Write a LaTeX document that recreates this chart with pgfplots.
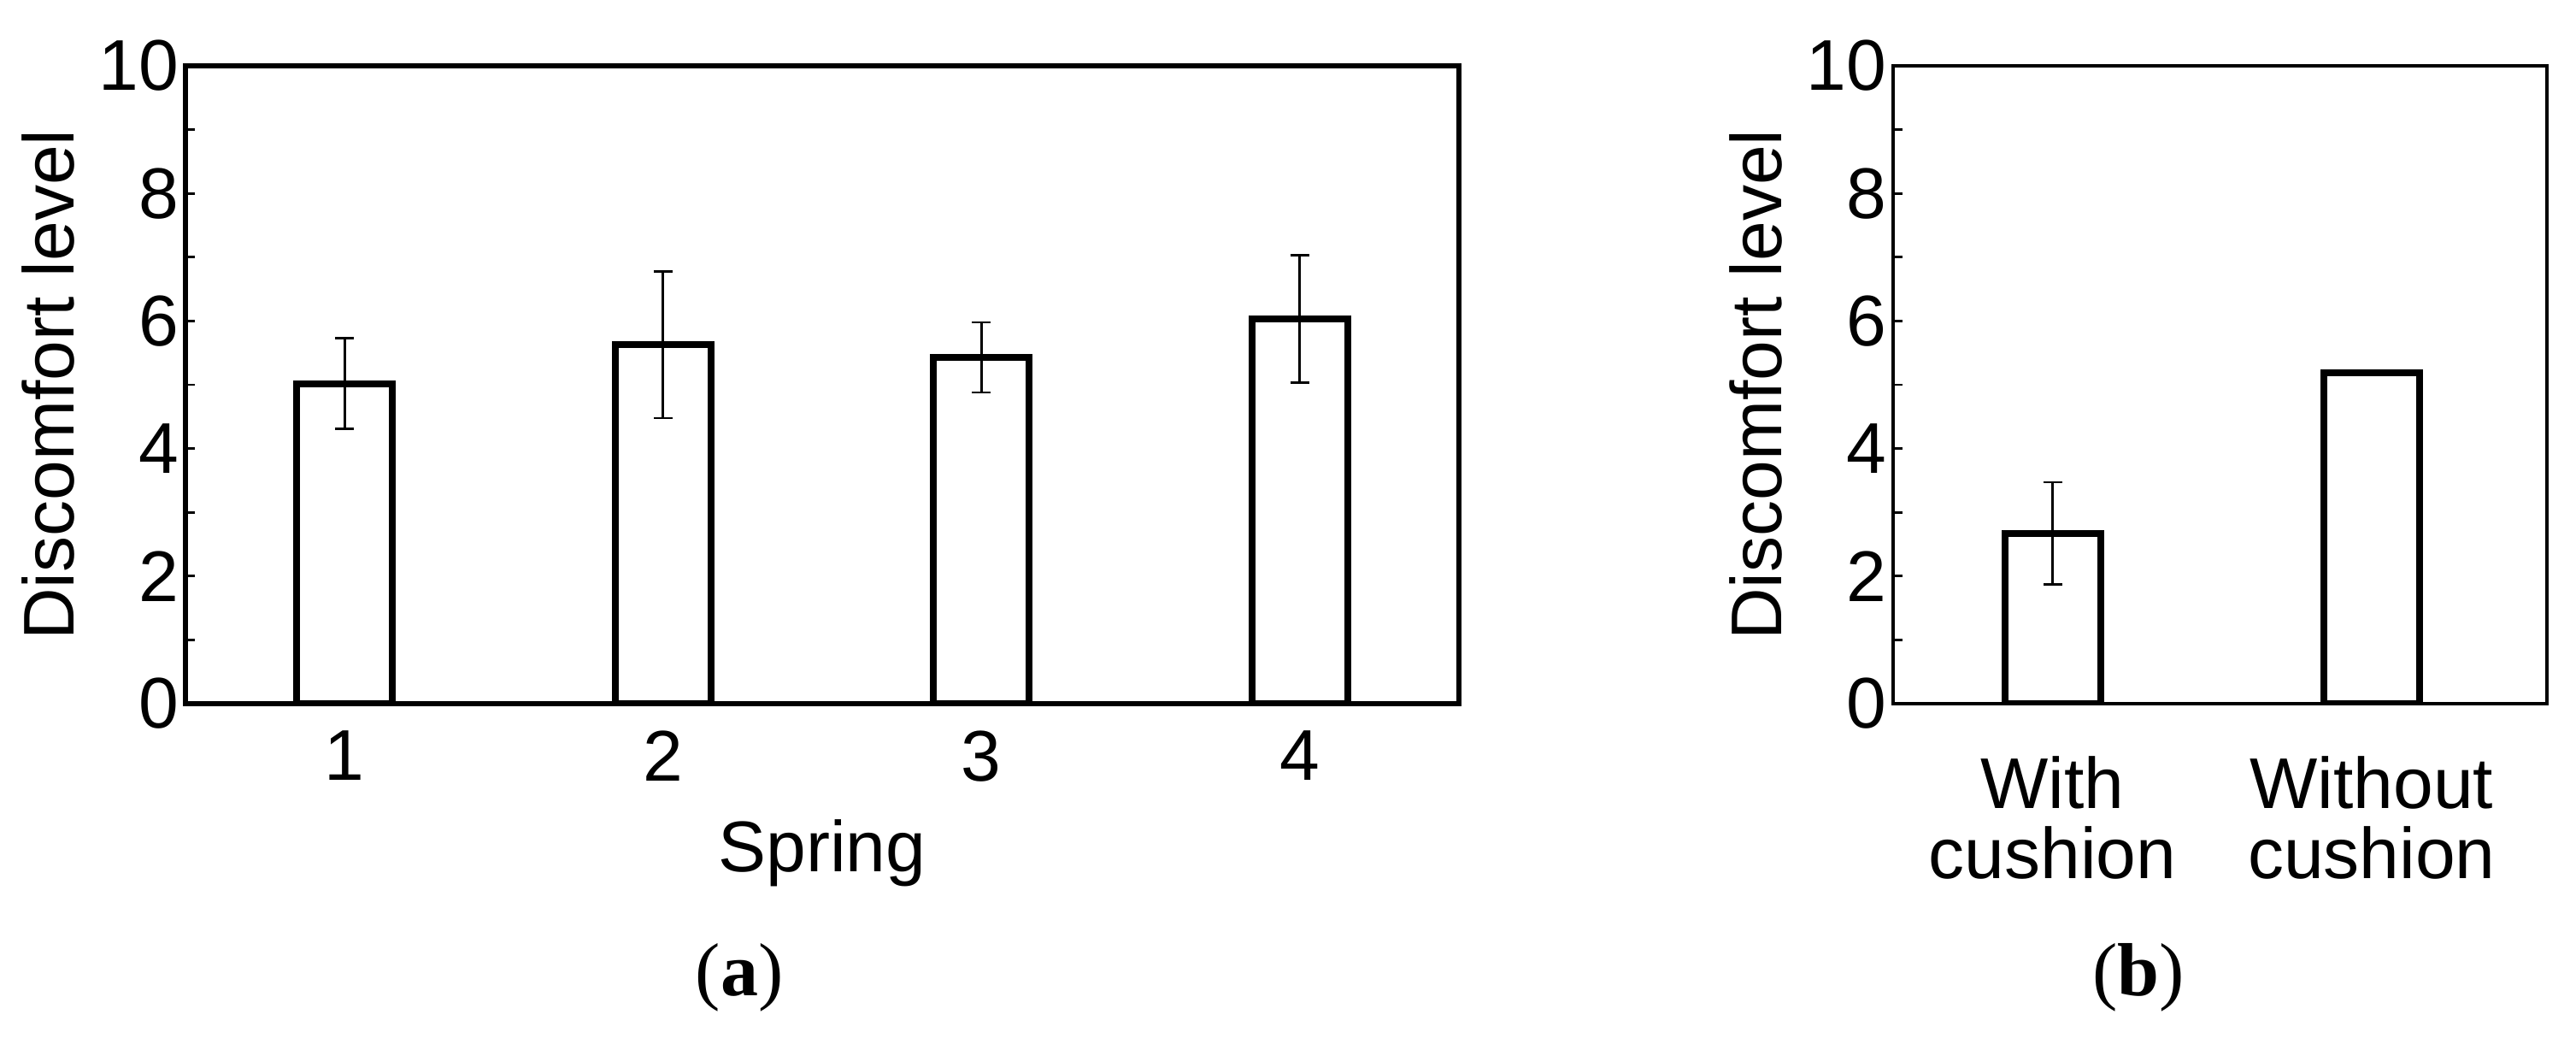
\documentclass[border=0pt]{standalone}
\usepackage{fontspec}
\setmainfont{Liberation Sans}
\newfontfamily\capfont{Liberation Serif}
\usepackage{pgfplots}
\pgfplotsset{compat=1.18}

\pgfplotsset{
  panel/.style={
    scale only axis,
    height=186.5pt,
    ymin=0, ymax=10,
    ytick={0,2,...,10},
    minor y tick num=1,
    ytick pos=left,
    tick align=inside,
    major tick length=2.8pt,
    minor tick length=2.8pt,
    tick style={black, line width=0.7pt},
    every major x tick/.append style={draw=none},
    tick label style={font=\fontsize{21}{25}\selectfont},
    label style={font=\fontsize{21}{25}\selectfont},
    /pgf/number format/assume math mode=true,
    yticklabel style={inner xsep=0pt, xshift=-1.8pt},
    ylabel={Discomfort level},
  },
  bars/.style={ybar, bar width=0.3, bar shift=0pt, fill=white, draw=black, line width=2pt},
  errs/.style={error bars/.cd, y dir=both, y explicit,
    error bar style={line width=0.65pt, black},
    error mark options={rotate=90, line width=0.65pt, mark size=2.75pt, black}},
}

\begin{document}
\begin{tikzpicture}
\path[use as bounding box] (0pt,-97.5pt) rectangle (753.5pt,205.75pt);

% (a) springs
\begin{axis}[panel,
    at={(54.25pt,0pt)}, anchor=south west,
    width=372.5pt,
    axis line style={line width=1.4pt},
    xmin=0.5, xmax=4.5,
    xtick={1,2,3,4},
    xticklabel style={yshift=-4.5pt},
    xlabel={Spring},
    xlabel style={at={(axis description cs:0.5,0)}, anchor=base, yshift=-49pt},
    ylabel style={at={(axis description cs:-0.0879,0.5)}, anchor=base},
]
\addplot[bars, errs] coordinates {
    (1,5.02) +- (0,0.71)
    (2,5.63) +- (0,1.15)
    (3,5.43) +- (0,0.55)
    (4,6.03) +- (0,1.00)
};
\end{axis}

% (b) cushion
\begin{axis}[panel,
    at={(553.75pt,0pt)}, anchor=south west,
    width=191.25pt,
    axis line style={line width=0.85pt},
    xmin=0.5, xmax=2.55,
    xtick={1,2},
    xticklabels={{With\\cushion},{Without\\cushion}},
    xticklabel style={align=center, font=\fontsize{21}{20.5}\selectfont, yshift=-11.75pt},
    ylabel style={at={(axis description cs:-0.1712,0.5)}, anchor=base},
]
\addplot[bars, errs] coordinates {
    (1,2.67) +- (0,0.80)
};
\addplot[bars] coordinates {
    (2,5.19)
};
\end{axis}

\node[font=\capfont\fontsize{22}{26}\selectfont] at (216.25pt,-80pt) {(\textbf{a})};
\node[font=\capfont\fontsize{22}{26}\selectfont] at (625.5pt,-80pt) {(\textbf{b})};
\end{tikzpicture}
\end{document}
